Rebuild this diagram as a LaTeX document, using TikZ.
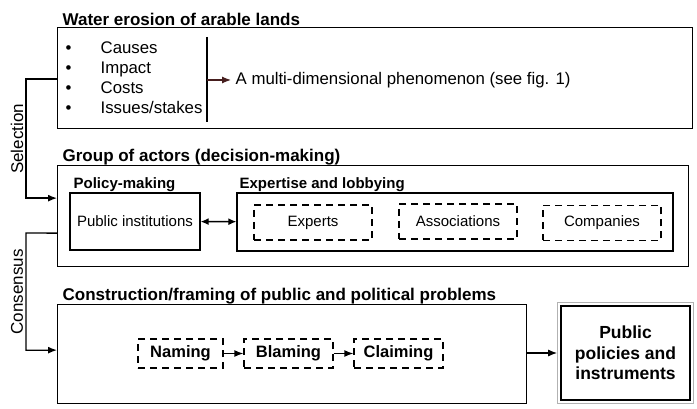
\documentclass[tikz,border=0pt]{standalone}
\usepackage{fontspec}
\setmainfont{Liberation Sans}
\usetikzlibrary{positioning,arrows.meta}
\definecolor{arrowbrown}{RGB}{70,30,30}

\begin{document}
\begin{tikzpicture}[x=1pt, y=-1pt, line width=1.3pt,
    every node/.style={font=\fontsize{16.8}{20}\selectfont},
    box/.style={draw, line width=1.3pt, inner sep=0pt},
    dbox/.style={draw, line width=1.3pt, dash pattern=on 7pt off 5pt, inner sep=0pt, minimum width=118pt, minimum height=35pt, font=\fontsize{15}{18}\selectfont},
    frame/.style={draw, line width=1.3pt, dash pattern=on 7pt off 5pt, inner sep=0pt, minimum height=29pt, font=\bfseries\fontsize{16.5}{19}\selectfont},
    title/.style={anchor=base west, inner sep=0pt, font=\bfseries\fontsize{17}{20}\selectfont},
    subtitle/.style={anchor=base west, inner sep=0pt, font=\bfseries\fontsize{15}{18}\selectfont},
    arr/.style={-{Latex[length=9pt, width=7pt]}}]
    \useasboundingbox (0,0) rectangle (697,409);

    % first block
    \node[box, anchor=north west, minimum width=635pt, minimum height=101pt] (erosion) at (57,27) {};
    \node[title] (erosiontitle) at (62,26) {Water erosion of arable lands};
    \foreach \t [count=\i] in {Causes, Impact, Costs, Issues/stakes} {
        \node[anchor=base west, inner sep=0pt] (bullet\i) at (65,34+20*\i) {\textbullet};
        \node[anchor=base west, inner sep=0pt] (item\i) at (100,34+20*\i) {\t};
    }
    \draw (207,37) -- (207,122);
    \coordinate (bar) at (207,80);
    \node[anchor=west, inner sep=0pt] (phenomenon) at (235,80) {A multi-dimensional phenomenon (see fig. 1)};
    \draw[arr, arrowbrown, line width=1.2pt] (bar) -- ([xshift=-4pt]phenomenon.west);

    % second block
    \node[box, anchor=north west, minimum width=631pt, minimum height=101pt] (group) at (57,165) {};
    \node[title] (grouptitle) at (62,162) {Group of actors (decision-making)};
    \node[subtitle] (policytitle) at (73,189) {Policy-making};
    \node[box, minimum width=130pt, minimum height=57pt, font=\fontsize{15}{18}\selectfont] (public) at (135,221.5) {Public institutions};
    \node[subtitle] (experttitle) at (239,189) {Expertise and lobbying};
    \node[box, minimum width=436pt, minimum height=58pt] (expertise) at (455,222) {};
    \node[dbox] (experts) at (313,222.5) {Experts};
    \node[dbox] (associations) at (458,221.5) {Associations};
    \node[dbox] (companies) at (602,223) {Companies};
    \draw[{Latex[length=8pt, width=7pt]}-{Latex[length=8pt, width=7pt]}] (public) -- (expertise);

    % third block
    \node[box, anchor=north west, minimum width=469pt, minimum height=99pt] (framing) at (57,304) {};
    \node[title] (framingtitle) at (62,301) {Construction/framing of public and political problems};
    \node[frame, minimum width=85pt] (naming) at (180.5,353.5) {Naming};
    \node[frame, minimum width=89pt] (blaming) at (288.5,353.5) {Blaming};
    \node[frame, minimum width=89pt] (claiming) at (398.5,353.5) {Claiming};
    \draw[arr] (naming) -- (blaming);
    \draw[arr] (blaming) -- (claiming);

    % result
    \node[box, line width=1.6pt, minimum width=129pt, minimum height=94pt, align=center, font=\bfseries\fontsize{17.5}{20.5}\selectfont] (policies) at (625.5,353) {Public\\policies and\\instruments};
    \draw[gray!60, line width=1pt] ([shift={(-3pt,3pt)}]policies.north west) rectangle ([shift={(3pt,-3pt)}]policies.south east);
    \draw[arr] (framing.east |- policies.west) -- ([xshift=-3pt]policies.west);

    % connectors on the left
    \draw[arr] (erosion.west |- 0,79) -- (26,79) |- ([yshift=18pt]group.west);
    \node[rotate=90, inner sep=0pt, font=\fontsize{17}{20}\selectfont] (selection) at (17,139) {Selection};
    \draw[arr] ([yshift=-17pt]group.west) -- (26,233) |- ([yshift=4pt]framing.west);
    \node[rotate=90, inner sep=0pt, font=\fontsize{17}{20}\selectfont] (consensus) at (17,292) {Consensus};
\end{tikzpicture}
\end{document}
